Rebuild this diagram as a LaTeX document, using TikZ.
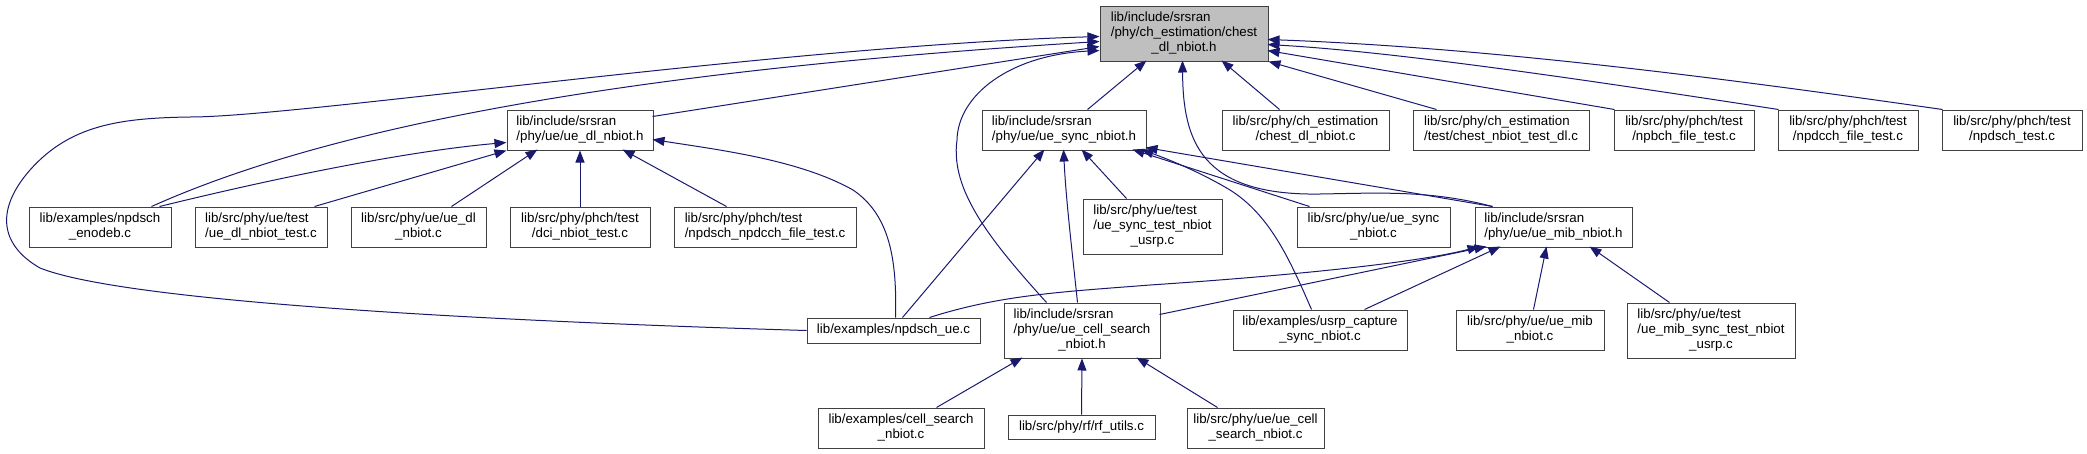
\documentclass[tikz,border=0pt]{standalone}
\usepackage{fontspec}
\setmainfont{Liberation Sans}
\usetikzlibrary{arrows.meta}
\definecolor{edgeblue}{HTML}{191970}
\definecolor{boxline}{HTML}{404040}
\definecolor{rootfill}{HTML}{BFBFBF}
\newcommand\lastc[1]{\multicolumn{1}{@{}c@{}}{#1}}
\newcommand\lns[1]{\begin{tabular}{@{}l@{}}#1\end{tabular}}
\newcommand\boxnode[7][]{\node[box,#1,minimum width={#5pt-#3pt},minimum height={#6pt-#4pt}] (#2) at ({(#3+#5)/2},{(#4+#6)/2}) {\lns{#7}};}
\begin{document}
\begin{tikzpicture}[x=1pt,y=-1pt,
  box/.style={draw=boxline,fill=white,line width=1pt,inner sep=0pt,font=\fontsize{13.3}{15}\selectfont},
  root/.style={fill=rootfill},
  edge/.style={draw=edgeblue,line width=1pt,-{Triangle[length=12pt,width=9pt]}}]
\fill[white] (0,0) rectangle (2087,453);
\useasboundingbox (0,0) rectangle (2087,453);

% row 0
\boxnode[root]{R}{1100}{6}{1268}{61}{lib/include/srsran\\/phy/ch\_estimation/chest\\\lastc{\_dl\_nbiot.h}}
% row 1
\boxnode{D}{507}{110}{653}{150}{lib/include/srsran\\\lastc{/phy/ue/ue\_dl\_nbiot.h}}
\boxnode{S}{982}{110}{1146}{150}{lib/include/srsran\\\lastc{/phy/ue/ue\_sync\_nbiot.h}}
\boxnode{CDC}{1222}{110}{1389}{150}{lib/src/phy/ch\_estimation\\\lastc{/chest\_dl\_nbiot.c}}
\boxnode{CNT}{1413}{110}{1589}{150}{lib/src/phy/ch\_estimation\\\lastc{/test/chest\_nbiot\_test\_dl.c}}
\boxnode{NPB}{1614}{110}{1754}{150}{lib/src/phy/phch/test\\\lastc{/npbch\_file\_test.c}}
\boxnode{NPDCCH}{1778}{110}{1918}{150}{lib/src/phy/phch/test\\\lastc{/npdcch\_file\_test.c}}
\boxnode{NPDSCHT}{1942}{110}{2082}{150}{lib/src/phy/phch/test\\\lastc{/npdsch\_test.c}}
% row 2
\boxnode{ENB}{29}{207}{171}{247}{lib/examples/npdsch\\\lastc{\_enodeb.c}}
\boxnode{UDT}{195}{207}{327}{247}{lib/src/phy/ue/test\\\lastc{/ue\_dl\_nbiot\_test.c}}
\boxnode{UDC}{351}{207}{486}{247}{lib/src/phy/ue/ue\_dl\\\lastc{\_nbiot.c}}
\boxnode{DCI}{510}{207}{650}{247}{lib/src/phy/phch/test\\\lastc{/dci\_nbiot\_test.c}}
\boxnode{NNF}{674}{207}{856}{247}{lib/src/phy/phch/test\\\lastc{/npdsch\_npdcch\_file\_test.c}}
\boxnode{UST}{1083}{199}{1222}{254}{lib/src/phy/ue/test\\/ue\_sync\_test\_nbiot\\\lastc{\_usrp.c}}
\boxnode{USC}{1297}{207}{1450}{247}{lib/src/phy/ue/ue\_sync\\\lastc{\_nbiot.c}}
\boxnode{M}{1475}{207}{1632}{247}{lib/include/srsran\\\lastc{/phy/ue/ue\_mib\_nbiot.h}}
% row 3
\boxnode{NUE}{807}{318}{980}{343}{lib/examples/npdsch\_ue.c}
\boxnode{C}{1004}{303}{1160}{358}{lib/include/srsran\\/phy/ue/ue\_cell\_search\\\lastc{\_nbiot.h}}
\boxnode{UCAP}{1233}{310}{1407}{350}{lib/examples/usrp\_capture\\\lastc{\_sync\_nbiot.c}}
\boxnode{UMC}{1456}{310}{1604}{350}{lib/src/phy/ue/ue\_mib\\\lastc{\_nbiot.c}}
\boxnode{UMST}{1627}{303}{1795}{358}{lib/src/phy/ue/test\\/ue\_mib\_sync\_test\_nbiot\\\lastc{\_usrp.c}}
% row 4
\boxnode{CSN}{818}{408}{984}{448}{lib/examples/cell\_search\\\lastc{\_nbiot.c}}
\boxnode{RFU}{1008}{415}{1155}{439}{lib/src/phy/rf/rf\_utils.c}
\boxnode{UCSN}{1187}{408}{1324}{448}{lib/src/phy/ue/ue\_cell\\\lastc{\_search\_nbiot.c}}

% edges into R
\draw[edge] (NUE.west) .. controls (450,320) and (120,300) .. (40,268) .. controls (0,245) and (-5,210) .. (30,170) .. controls (70,125) and (120,118) .. (190,117) .. controls (300,117) and (780,46) .. ([shift={(0,31)}]R.north west);
\draw[edge] ([shift={(123,0)}]ENB.north west) .. controls (300,140) and (560,75) .. ([shift={(0,36)}]R.north west);
\draw[edge] ([shift={(146,7)}]D.north west) -- ([shift={(0,41)}]R.north west);
\draw[edge] ([shift={(43,0)}]C.north west) .. controls (990,240) and (950,190) .. (957,140) .. controls (958,95) and (1010,55) .. ([shift={(0,45)}]R.north west);
\draw[edge] ([shift={(106,0)}]S.north west) -- ([shift={(47,55)}]R.north west);
\draw[edge] ([shift={(18,0)}]M.north west) .. controls (1430,190) and (1380,193) .. (1320,194) .. controls (1200,196) and (1183,140) .. ([shift={(83,55)}]R.north west);
\draw[edge] ([shift={(58,0)}]CDC.north west) -- ([shift={(122,55)}]R.north west);
\draw[edge] ([shift={(24,0)}]CNT.north west) -- (R.south east);
\draw[edge] ([shift={(1,0)}]NPB.north west) -- ([shift={(168,45)}]R.north west);
\draw[edge] ([shift={(1,0)}]NPDCCH.north west) .. controls (1600,82) and (1400,52) .. ([shift={(168,39)}]R.north west);
\draw[edge] ([shift={(1,0)}]NPDSCHT.north west) .. controls (1750,82) and (1500,48) .. ([shift={(168,34)}]R.north west);

% edges into D
\draw[edge] ([shift={(131,0)}]ENB.north west) .. controls (300,172) and (420,150) .. ([shift={(0,33)}]D.north west);
\draw[edge] ([shift={(120,0)}]UDT.north west) -- (D.south west);
\draw[edge] ([shift={(101,0)}]UDC.north west) -- ([shift={(31,40)}]D.north west);
\draw[edge] (DCI.north) -- (D.south);
\draw[edge] ([shift={(53,0)}]NNF.north west) -- ([shift={(116,40)}]D.north west);
\draw[edge] ([shift={(89,0)}]NUE.north west) .. controls (897,260) and (890,215) .. (853,190) .. controls (800,160) and (720,150) .. ([shift={(146,30)}]D.north west);

% edges into S
\draw[edge] ([shift={(96,0)}]NUE.north west) -- ([shift={(63,40)}]S.north west);
\draw[edge] ([shift={(74,0)}]C.north west) .. controls (1072,250) and (1066,200) .. ([shift={(82,40)}]S.north west);
\draw[edge] ([shift={(44,0)}]UST.north west) -- ([shift={(100,40)}]S.north west);
\draw[edge] ([shift={(13,0)}]USC.north west) -- ([shift={(151,40)}]S.north west);
\draw[edge] ([shift={(79,0)}]UCAP.north west) .. controls (1290,260) and (1270,215) .. (1230,190) .. controls (1200,172) and (1170,160) .. ([shift={(160,40)}]S.north west);
\draw[edge] ([shift={(18,0)}]M.north west) -- ([shift={(164,38)}]S.north west);

% edges into M
\draw[edge] ([shift={(123,0)}]NUE.north west) .. controls (1000,295) and (1060,292) .. (1150,285) .. controls (1300,275) and (1420,262) .. ([shift={(5,40)}]M.north west);
\draw[edge] ([shift={(156,12)}]C.north west) -- ([shift={(12,40)}]M.north west);
\draw[edge] ([shift={(132,0)}]UCAP.north west) -- ([shift={(26,40)}]M.north west);
\draw[edge] ([shift={(78,0)}]UMC.north west) -- ([shift={(72,40)}]M.north west);
\draw[edge] ([shift={(43,0)}]UMST.north west) -- ([shift={(115,40)}]M.north west);

% edges into C
\draw[edge] ([shift={(119,0)}]CSN.north west) -- ([shift={(19,55)}]C.north west);
\draw[edge] (RFU.north) -- (C.south);
\draw[edge] ([shift={(31,0)}]UCSN.north west) -- ([shift={(133,55)}]C.north west);
\end{tikzpicture}
\end{document}
